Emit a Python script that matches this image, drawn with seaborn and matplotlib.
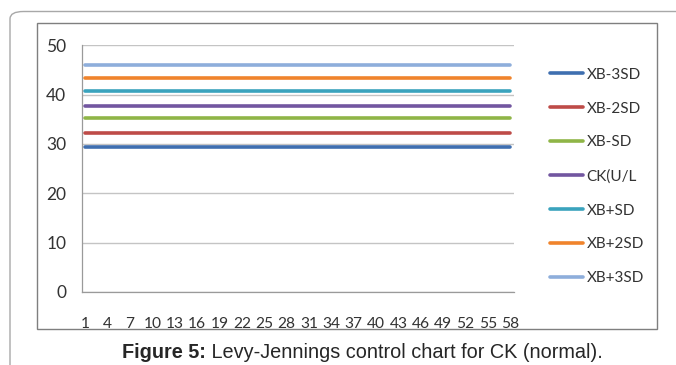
import numpy as np
import pandas as pd
import matplotlib
matplotlib.use("Agg")
import matplotlib.pyplot as plt
from matplotlib.patches import FancyBboxPatch, Rectangle
from matplotlib.lines import Line2D
import seaborn as sns

# Control limits for CK (U/L) across 58 runs
runs = list(range(1, 59))
series_names = ["XB-3SD", "XB-2SD", "XB-SD", "CK(U/L", "XB+SD", "XB+2SD", "XB+3SD"]
series_levels = [29.45, 32.3, 35.2, 37.75, 40.8, 43.4, 46.1]
series_colors = ["#3f6fb0", "#be4b48", "#8fb547", "#7256a0", "#3aa3bd", "#f0842c", "#8eaedb"]
y_ticks = [0, 10, 20, 30, 40, 50]
x_labels = list(range(1, 59, 3))
caption_bold = "Figure 5:"
caption_text = " Levy-Jennings control chart for CK (normal)."

rows = []
for name, level in zip(series_names, series_levels):
    for r in runs:
        rows.append({"run": r, "value": level, "series": name})
df = pd.DataFrame(rows)

sns.set_style("white")
plt.rcParams["font.family"] = ["Lato", "DejaVu Sans"]

fig = plt.figure(figsize=(6.76, 3.65), dpi=100)

# outer rounded frame
fig.patches.append(FancyBboxPatch((10 / 676, -0.1), 1.2, 1 - 11.5 / 365 + 0.1,
                                  boxstyle="round,pad=0,rounding_size=0.02",
                                  transform=fig.transFigure, fill=False,
                                  edgecolor="#a8a8a8", linewidth=1.0))
# chart area border
fig.patches.append(Rectangle((37 / 676, 1 - 329 / 365), (657 - 37) / 676, (329 - 22.5) / 365,
                             transform=fig.transFigure, fill=False,
                             edgecolor="#7f7f7f", linewidth=1.0))

ax = fig.add_axes([81.5 / 676, 1 - 292 / 365, (514 - 81.5) / 676, (292 - 45.3) / 365])
palette = dict(zip(series_names, series_colors))
sns.lineplot(data=df, x="run", y="value", hue="series", hue_order=series_names,
             palette=palette, linewidth=2.6, legend=False, ax=ax)

ax.set_xlim(0.5, 58.5)
ax.set_ylim(0, 50)
ax.set_yticks(y_ticks)
ax.set_yticklabels([str(t) for t in y_ticks], fontsize=12.5, color="#333333")
ax.set_xticks(x_labels)
ax.set_xticklabels([str(t) for t in x_labels], fontsize=11.2, color="#333333")
ax.set_xticks(np.arange(0.5, 59.0, 1.0), minor=True)
ax.tick_params(axis="x", which="major", length=0, pad=18)
ax.tick_params(axis="x", which="minor", length=4, color="#9a9a9a", width=0.8, direction="out")
ax.tick_params(axis="y", which="major", length=5, color="#9a9a9a", width=0.8, direction="out", pad=6)
ax.yaxis.grid(True, color="#c4c4c4", linewidth=1.0)
ax.set_axisbelow(True)
for side in ["top", "right"]:
    ax.spines[side].set_visible(False)
for side in ["left", "bottom"]:
    ax.spines[side].set_color("#9a9a9a")
    ax.spines[side].set_linewidth(0.9)
ax.set_xlabel("")
ax.set_ylabel("")

handles = [Line2D([0], [0], color=c, linewidth=2.6) for c in series_colors]
fig.legend(handles, series_names, loc="center left",
           bbox_to_anchor=(536 / 676, 1 - 176.5 / 365), frameon=False,
           fontsize=11, handlelength=2.2, handletextpad=0.2,
           labelspacing=1.3, labelcolor="#333333")

t1 = fig.text(122 / 676, 1 - 352 / 365, caption_bold, fontsize=14.3, fontweight="bold",
              family="Liberation Sans", va="center", ha="left")
fig.canvas.draw()
bb = t1.get_window_extent()
fig.text(bb.x1 / fig.bbox.width, 1 - 352 / 365, caption_text, fontsize=14.3,
         family="Liberation Sans", va="center", ha="left")

fig.savefig("out.png", dpi=100)
